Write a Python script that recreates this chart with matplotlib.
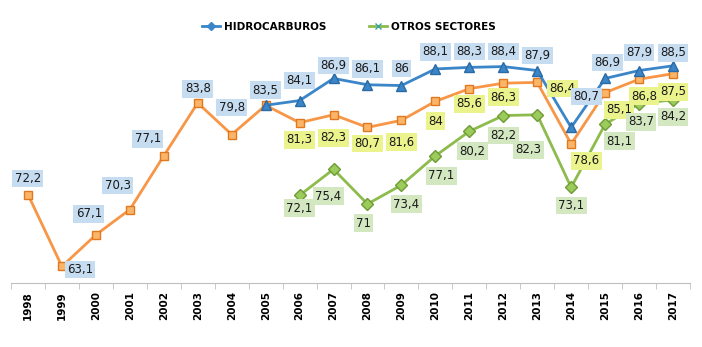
import numpy as np
import matplotlib.pyplot as plt
from matplotlib.lines import Line2D

years = list(range(1998, 2018))

# total (sin leyenda)
total = [72.2, 63.1, 67.1, 70.3, 77.1, 83.8, 79.8, 83.5, 81.3, 82.3,
         80.7, 81.6, 84.0, 85.6, 86.3, 86.4, 78.6, 85.1, 86.8, 87.5]

hidro_years = list(range(2005, 2018))
hidrocarburos = [83.5, 84.1, 86.9, 86.1, 86.0, 88.1, 88.3, 88.4, 87.9,
                 80.7, 86.9, 87.9, 88.5]

otros_years = list(range(2006, 2018))
otros_sectores = [72.1, 75.4, 71.0, 73.4, 77.1, 80.2, 82.2, 82.3, 73.1,
                  81.1, 83.7, 84.2]

# offsets (px) de las etiquetas
total_off = [(0, 16), (18, -3), (-7, 21), (-12, 24), (-16, 17), (0, 14),
             (0, 27), (0, 15), (0, -17), (0, -23), (0, -16), (0, -22),
             (0, -20), (0, -15), (0, -14), (25, -6), (15, -17), (14, -17),
             (5, -17), (0, -18)]
hidro_off = [None, (0, 20), (0, 13), (0, 16), (0, 17), (0, 17), (0, 16),
             (0, 15), (0, 15), (15, 31), (2, 16), (0, 18), (0, 13)]
otros_off = [(0, -13), (-5, -27), (-4, -19), (5, -19), (6, -20), (3, -20),
             (0, -20), (-9, -35), (0, -18), (14, -17), (2, -18), (0, -17)]

BLUE = "#3A86C8"
ORANGE = "#F79646"
GREEN = "#8DBB4C"
BOX_BLUE = "#C6DCF1"
BOX_YEL = "#EBF38C"
BOX_GREEN = "#D3E7C1"


def fmt(v):
    s = f"{v:.1f}".replace(".", ",")
    return s[:-2] if s.endswith(",0") else s


fig = plt.figure(figsize=(7.02, 3.47), dpi=100)
ax = fig.add_axes([11 / 702, 64 / 347, 679 / 702, 248 / 347])

xi = {y: i for i, y in enumerate(years)}

ax.plot([xi[y] for y in otros_years], otros_sectores, color=GREEN, lw=2.0,
        marker="D", ms=6, mfc="#9BCB5A", mec="#6E9B35", zorder=3)
ax.plot(range(len(years)), total, color=ORANGE, lw=2.0,
        marker="s", ms=6, mfc="#FBB568", mec="#E07820", zorder=3)
ax.plot([xi[y] for y in hidro_years], hidrocarburos, color=BLUE, lw=2.0,
        marker="^", ms=7, mfc="#3A86C8", mec="#2A6AA5", zorder=4)


def label(x, v, off, fc):
    ax.annotate(fmt(v), (x, v), xytext=off, textcoords="offset pixels",
                ha="center", va="center", fontsize=8.5, color="#1a1a1a",
                bbox=dict(boxstyle="square,pad=0.2", fc=fc, ec="none"),
                zorder=5)


for i, (v, off) in enumerate(zip(total, total_off)):
    label(i, v, off, BOX_BLUE if years[i] <= 2005 else BOX_YEL)
for y, v, off in zip(hidro_years, hidrocarburos, hidro_off):
    if off is not None:
        label(xi[y], v, off, BOX_BLUE)
for y, v, off in zip(otros_years, otros_sectores, otros_off):
    label(xi[y], v, off, BOX_GREEN)

ax.set_xlim(-0.5, len(years) - 0.5)
ax.set_ylim(61, 92.4)
ax.set_yticks([])
for s in ["top", "right", "left"]:
    ax.spines[s].set_visible(False)
ax.spines["bottom"].set_color("#BFBFBF")

ax.set_xticks(range(len(years)))
ax.set_xticklabels([str(y) for y in years], rotation=90, fontsize=7.5,
                   fontweight="bold")
ax.tick_params(axis="x", which="major", length=0, pad=6)
ax.set_xticks(np.arange(-0.5, len(years), 1), minor=True)
ax.tick_params(axis="x", which="minor", length=4, color="#BFBFBF")

handles = [
    Line2D([], [], color=BLUE, lw=2, marker="D", ms=4.5),
    Line2D([], [], color=GREEN, lw=2, marker="x", ms=5, mec="#3BA5A0"),
]
fig.legend(handles, ["HIDROCARBUROS", "OTROS SECTORES"], loc="center",
           bbox_to_anchor=(0.497, 1 - 27 / 347), ncol=2, frameon=False,
           prop={"weight": "bold", "size": 7.5}, handlelength=1.8,
           handletextpad=0.4, columnspacing=4)

fig.savefig("out.png", dpi=100)
